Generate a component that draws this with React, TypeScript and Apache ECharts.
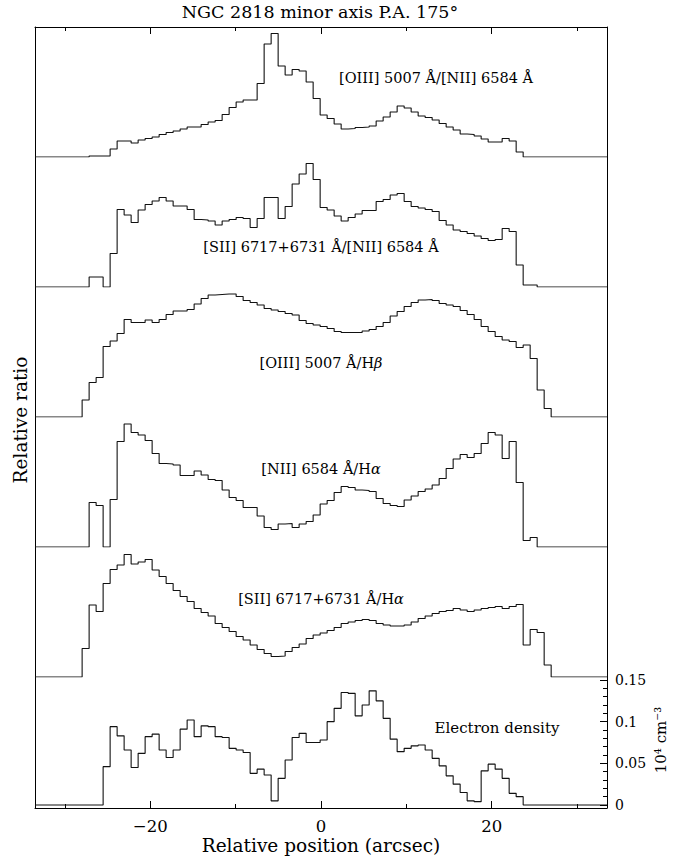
import React, { useEffect, useRef } from "react";
import * as echarts from "echarts";

// Left edges of the 0.82" spatial bins along the slit (last entry closes the final bin).
const binEdges = [
  -27.98, -27.16, -26.34, -25.52, -24.7, -23.88, -23.06, -22.24, -21.42, -20.6,
  -19.78, -18.96, -18.14, -17.32, -16.5, -15.68, -14.86, -14.04, -13.22, -12.4,
  -11.58, -10.76, -9.94, -9.12, -8.3, -7.48, -6.66, -5.84, -5.02, -4.2,
  -3.38, -2.56, -1.74, -0.92, -0.1, 0.72, 1.54, 2.36, 3.18, 4.0,
  4.82, 5.64, 6.46, 7.28, 8.1, 8.92, 9.74, 10.56, 11.38, 12.2,
  13.02, 13.84, 14.66, 15.48, 16.3, 17.12, 17.94, 18.76, 19.58, 20.4,
  21.22, 22.04, 22.86, 23.68, 24.5, 25.32, 26.14, 26.96,
];

// Line ratios (relative units) per bin
const oiiiNii = [
  0, 1, 1, 1, 8, 16, 16, 14, 17, 18.5,
  20, 22.5, 24.5, 26, 28, 30, 30, 32.5, 35, 36.5,
  42.5, 49.5, 55, 57, 57, 73.5, 113, 123.5, 91, 82,
  87.5, 86, 75, 58.5, 42, 38.5, 33, 28, 28.5, 29.5,
  30, 31, 36, 40, 45, 51, 49, 45, 41, 39.5,
  37, 33.5, 30, 27, 23, 22.5, 21, 18, 15, 15,
  18.5, 16, 5, 0, 0, 0, 0,
];

const siiNii = [
  0, 10, 10, 0, 33.5, 77.5, 72, 64.5, 77, 82.5,
  86, 89.5, 86, 81, 81, 77.5, 67.5, 67, 66, 62,
  66, 67.5, 69.5, 68.5, 59.5, 68.5, 89.5, 89.5, 68.5, 80.5,
  103, 113, 123.5, 107.5, 79.5, 77, 71, 66, 69.5, 73,
  76.5, 76.5, 85.5, 87.5, 92, 93.5, 85.5, 80.5, 79, 77.5,
  75.5, 66.5, 62, 57, 55.5, 53.5, 51, 48.5, 46.5, 47.5,
  58.5, 55.5, 22, 2, 2, 0, 0,
];

const oiiiHb = [
  17, 34.5, 39.5, 70.5, 76, 83.5, 97.5, 94.5, 94.5, 97,
  94.5, 97.5, 102.5, 106, 106, 107.5, 113, 118.5, 122, 122.5,
  123, 123, 120.5, 116.5, 114.5, 112, 108.5, 107, 105.5, 103.5,
  102, 96.5, 93.5, 92, 90.5, 88.5, 85.5, 84.5, 84.5, 84.5,
  86, 87.5, 90.5, 94.5, 101, 105.5, 110.5, 114.5, 117, 117.5,
  116.5, 113.5, 112, 110.5, 106.5, 102.5, 97.5, 90.5, 85.5, 80.5,
  77, 75.5, 69.5, 72, 58.5, 27, 8.5,
];

const niiHa = [
  0, 44.5, 41.5, 0, 47.5, 105.5, 123, 114.5, 112, 106.5,
  93.5, 83.5, 83, 82, 71.5, 71.5, 76, 72, 67.5, 66.5,
  57, 49.5, 46.5, 39.5, 39.5, 31, 19.5, 17.5, 23, 23.5,
  19.5, 23, 25.5, 32, 43, 46.5, 54.5, 60.5, 59.5, 57,
  56.5, 55.5, 48.5, 43.5, 41.5, 40.5, 47, 51, 55.5, 58,
  62, 68.5, 78.5, 88, 92.5, 89.5, 93.5, 103.5, 114.5, 112,
  88.5, 105.5, 64.5, 6.5, 9.5, 0, 0,
];

const siiHa = [
  28.5, 72, 65.5, 93.5, 107.5, 112, 122.5, 113, 115, 117.5,
  107, 100.5, 93.5, 86.5, 80.5, 75.5, 68.5, 64.5, 61, 53.5,
  49.5, 45.5, 40.5, 37, 32, 27.5, 23.5, 20.5, 21, 25.5,
  29.5, 33, 38.5, 42, 44, 46.5, 49.5, 53.5, 55, 56.5,
  57.5, 56.5, 53.5, 52, 51, 51, 52, 55, 58.5, 61,
  63.5, 65.5, 66.5, 68.5, 67, 65.5, 67, 68.5, 69.5, 70.5,
  68.5, 70.5, 72.5, 32, 47.5, 44.5, 12,
];

// Electron density in units of 10^4 cm^-3
const electronDensity = [
  0, 0, 0, 0.046, 0.094, 0.083, 0.066, 0.045, 0.062, 0.082,
  0.085, 0.066, 0.057, 0.066, 0.091, 0.102, 0.082, 0.095, 0.094, 0.082,
  0.081, 0.068, 0.066, 0.063, 0.038, 0.043, 0.036, 0.005, 0.032, 0.054,
  0.081, 0.086, 0.075, 0.075, 0.078, 0.1, 0.116, 0.135, 0.134, 0.107,
  0.12, 0.137, 0.125, 0.104, 0.079, 0.064, 0.068, 0.071, 0.072, 0.066,
  0.056, 0.047, 0.035, 0.025, 0.015, 0.005, 0.004, 0.041, 0.049, 0.043,
  0.032, 0.014, 0.01, 0, 0, 0, 0,
];

const panelSeries = [oiiiNii, siiNii, oiiiHb, niiHa, siiHa, electronDensity];

const xMajorTicks = [-20, 0, 20];
const xMinorTicks = [-30, -10, 10, 30];
const densityTicks = [0, 0.05, 0.1, 0.15];
const densityMinorTicks = [0.01, 0.02, 0.03, 0.04, 0.06, 0.07, 0.08, 0.09, 0.11, 0.12, 0.13, 0.14];

const X_MIN = -33.5;
const X_MAX = 33.5;
const RATIO_RANGE = [0, 130];
const DENSITY_RANGE = [-0.0036, 0.1536];

const FONT = "'DejaVu Serif', 'Liberation Serif', serif";
const INK = "#000";

// Layout of the stacked panels
const PLOT_LEFT = 35;
const PLOT_WIDTH = 572;
const PANEL_TOPS = [27, 157, 287, 417, 547, 677];
const PANEL_HEIGHTS = [130, 130, 130, 130, 130, 131];

function stepPoints(values: number[]) {
  const pts: number[][] = [[X_MIN, 0]];
  values.forEach((v, i) => pts.push([binEdges[i], v]));
  pts.push([binEdges[values.length], 0]);
  pts.push([X_MAX, 0]);
  return pts;
}

const minusFmt = (v: number) => (v < 0 ? "\u2212" + String(-v) : String(v));

function buildOption() {
  const line = { color: INK, width: 1 };

  const grid = PANEL_TOPS.map((top, i) => ({
    left: PLOT_LEFT,
    width: PLOT_WIDTH,
    top,
    height: PANEL_HEIGHTS[i],
  }));

  const xAxis: any[] = PANEL_TOPS.map((_, i) => {
    const base: any = {
      type: "value",
      gridIndex: i,
      min: X_MIN,
      max: X_MAX,
      splitLine: { show: false },
    };
    if (i === 0) {
      return {
        ...base,
        position: "top",
        axisLine: { show: true, onZero: false, lineStyle: line },
        axisTick: { show: true, inside: true, length: 7, customValues: xMajorTicks, lineStyle: line },
        axisLabel: { show: false },
      };
    }
    if (i === PANEL_TOPS.length - 1) {
      return {
        ...base,
        position: "bottom",
        axisLine: { show: true, onZero: false, lineStyle: line },
        axisTick: { show: true, inside: true, length: 7, customValues: xMajorTicks, lineStyle: line },
        axisLabel: {
          show: true,
          customValues: xMajorTicks,
          formatter: minusFmt,
          margin: 10,
          fontFamily: FONT,
          fontSize: 16.5,
          color: INK,
        },
        name: "Relative position (arcsec)",
        nameLocation: "middle",
        nameGap: 28,
        nameTextStyle: { fontFamily: FONT, fontSize: 18.5, color: INK },
      };
    }
    return { ...base, show: false };
  });
  // minor ticks on the top and bottom frame
  [0, PANEL_TOPS.length - 1].forEach((g) => {
    xAxis.push({
      type: "value",
      gridIndex: g,
      min: X_MIN,
      max: X_MAX,
      position: g === 0 ? "top" : "bottom",
      axisLine: { show: false, onZero: false },
      axisTick: { show: true, inside: true, length: 4, customValues: xMinorTicks, lineStyle: line },
      axisLabel: { show: false },
      splitLine: { show: false },
    });
  });

  const yAxis: any[] = [];
  PANEL_TOPS.forEach((_, i) => {
    const isDensity = i === PANEL_TOPS.length - 1;
    const range = isDensity ? DENSITY_RANGE : RATIO_RANGE;
    const base: any = {
      type: "value",
      gridIndex: i,
      min: range[0],
      max: range[1],
      splitLine: { show: false },
      axisLine: { show: true, onZero: false, lineStyle: line },
    };
    yAxis.push({ ...base, position: "left", axisTick: { show: false }, axisLabel: { show: false } });
    yAxis.push({
      ...base,
      position: "right",
      axisTick: isDensity
        ? { show: true, inside: true, length: 7, customValues: densityTicks, lineStyle: line }
        : { show: false },
      axisLabel: isDensity
        ? {
            show: true,
            customValues: densityTicks,
            formatter: (v: number) => String(+v.toFixed(2)),
            margin: 8,
            fontFamily: FONT,
            fontSize: 14,
            color: INK,
          }
        : { show: false },
    });
  });
  yAxis.push({
    type: "value",
    gridIndex: PANEL_TOPS.length - 1,
    min: DENSITY_RANGE[0],
    max: DENSITY_RANGE[1],
    position: "right",
    axisLine: { show: false, onZero: false },
    axisTick: { show: true, inside: true, length: 4, customValues: densityMinorTicks, lineStyle: line },
    axisLabel: { show: false },
    splitLine: { show: false },
  });

  const series = panelSeries.map((values, i) => ({
    type: "line",
    xAxisIndex: i,
    yAxisIndex: 2 * i,
    step: "end",
    data: stepPoints(values),
    showSymbol: false,
    symbol: "none",
    silent: true,
    lineStyle: { color: "#111", width: 1.1 },
  }));

  const txt = (text: string, x: number, y: number, size: number, extra: any = {}) => ({
    type: "text",
    x,
    y,
    silent: true,
    ...extra,
    style: {
      text,
      fontFamily: FONT,
      fontSize: size,
      fill: INK,
      align: "center",
      verticalAlign: "middle",
      textAlign: "center",
      textVerticalAlign: "middle",
      ...(extra.style || {}),
    },
  });

  const greek = (size: number) => ({
    g: { fontFamily: FONT, fontSize: size, fontStyle: "italic", fill: INK },
    n: { fontFamily: FONT, fontSize: size, fill: INK },
  });

  const graphic = [
    txt("NGC 2818 minor axis P.A. 175°", 320, 12, 17.5),
    txt("Relative ratio", 20, 420, 18.5, { rotation: Math.PI / 2 }),
    txt("10⁴ cm⁻³", 661, 740, 15, { rotation: Math.PI / 2 }),
    txt("[OIII] 5007 Å/[NII] 6584 Å", 436, 78, 14.5),
    txt("[SII] 6717+6731 Å/[NII] 6584 Å", 321, 247, 14.5),
    txt("{n|[OIII] 5007 Å/H}{g|β}", 321, 363, 14.5, { style: { rich: greek(14.5) } }),
    txt("{n|[NII] 6584 Å/H}{g|α}", 321, 469, 14.5, { style: { rich: greek(14.5) } }),
    txt("{n|[SII] 6717+6731 Å/H}{g|α}", 321, 599, 14.5, { style: { rich: greek(14.5) } }),
    txt("Electron density", 497, 728, 15),
  ];

  return {
    animation: false,
    backgroundColor: "#fff",
    grid,
    xAxis,
    yAxis,
    series,
    graphic,
  };
}

export default function App() {
  const ref = useRef<HTMLDivElement>(null);
  useEffect(() => {
    if (!ref.current) return;
    const chart = echarts.init(ref.current, null, { renderer: "svg" });
    chart.setOption(buildOption() as any);
    return () => chart.dispose();
  }, []);
  return (
    <div
      ref={ref}
      style={{ position: "fixed", left: 0, top: 0, width: 688, height: 856, background: "#fff" }}
    />
  );
}
